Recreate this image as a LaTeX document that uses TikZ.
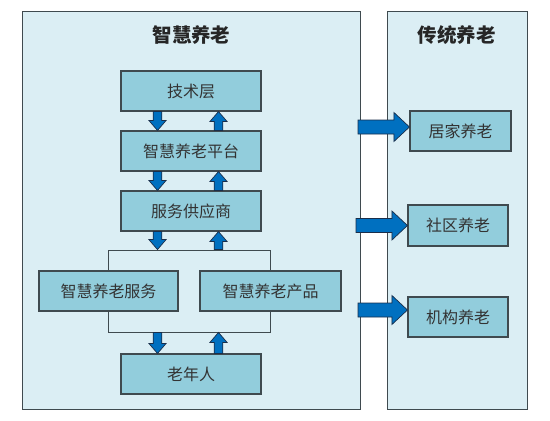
\documentclass[tikz,border=0pt]{standalone}
\usepackage{fontspec}
\newfontfamily\cjk{Noto Sans CJK SC}
\usetikzlibrary{calc}
\definecolor{panelfill}{HTML}{DBEEF4}
\definecolor{boxfill}{HTML}{92CDDC}
\definecolor{boxline}{HTML}{3F4A4F}
\definecolor{arrfill}{HTML}{0070C0}
\definecolor{arrline}{HTML}{1A2E4A}
\definecolor{txt}{HTML}{333333}
\newcommand{\blkarrow}[5]{%
  \coordinate (bah) at ($(#2)!#5!(#1)$);
  \draw[blkarr] ($(#1)!#3!90:(#2)$) -- ($(bah)!#3!90:(#2)$) -- ($(bah)!#4!90:(#2)$) -- (#2)
    -- ($(bah)!#4!-90:(#2)$) -- ($(bah)!#3!-90:(#2)$) -- ($(#1)!#3!-90:(#2)$) -- cycle;}
\begin{document}
\begin{tikzpicture}[x=1pt,y=-1pt,
  panel/.style={draw=boxline, line width=0.9pt, fill=panelfill},
  title/.style={font=\cjk\fontsize{19.5pt}{22pt}\selectfont\bfseries, text=black!85},
  box/.style={draw=boxline, line width=1.1pt, fill=boxfill, minimum height=40pt,
    inner sep=0pt, font=\cjk\fontsize{16pt}{18pt}\selectfont, text=txt},
  frameline/.style={draw=boxline, line width=0.9pt, fill=panelfill, inner sep=0pt},
  blkarr/.style={fill=arrfill, draw=arrline, line width=0.7pt, line join=miter}]
\useasboundingbox (0,0) rectangle (550,421);
\fill[white] (0,0) rectangle (550,421);
% panels
\node[panel, minimum width=337.5pt, minimum height=398pt, anchor=north west] (lp) at (22,11) {};
\node[panel, minimum width=140pt, minimum height=398pt, anchor=north west] (rp) at (387,11) {};
\node[title] (lt) at (191.5,35) {智慧养老};
\node[title] (rt) at (456.5,35) {传统养老};
% connector frame
\node[frameline, minimum width=162.5pt, minimum height=82pt] (frame) at (189.25,291) {};
% boxes
\node[box, minimum width=140pt] (tech) at (191,91) {技术层};
\node[box, minimum width=140pt] (plat) at (191,151) {智慧养老平台};
\node[box, minimum width=140pt] (svc) at (191,211) {服务供应商};
\node[box, minimum width=139pt] (serv) at (108.5,291) {智慧养老服务};
\node[box, minimum width=141pt] (prod) at (270.5,291) {智慧养老产品};
\node[box, minimum width=140pt] (old) at (191,374) {老年人};
\node[box, minimum width=101pt] (home) at (460.5,131) {居家养老};
\node[box, minimum width=100pt, minimum height=41pt] (comm) at (458,225.5) {社区养老};
\node[box, minimum width=100pt] (inst) at (458,317) {机构养老};
% vertical arrows
\coordinate (dx) at (157.5,0);
\coordinate (ux) at (218.5,0);
\coordinate (a1) at (tech.south -| dx); \coordinate (b1) at (plat.north -| dx);
\coordinate (a2) at (plat.north -| ux); \coordinate (b2) at (tech.south -| ux);
\coordinate (a3) at (plat.south -| dx); \coordinate (b3) at (svc.north -| dx);
\coordinate (a4) at (svc.north -| ux);  \coordinate (b4) at (plat.south -| ux);
\coordinate (a5) at (svc.south -| dx);  \coordinate (b5) at (frame.north -| dx);
\coordinate (a6) at (frame.north -| ux); \coordinate (b6) at (svc.south -| ux);
\coordinate (a7) at (frame.south -| dx); \coordinate (b7) at (old.north -| dx);
\coordinate (a8) at (old.north -| ux);  \coordinate (b8) at (frame.south -| ux);
\foreach \i in {1,...,8} {\blkarrow{a\i}{b\i}{4.3pt}{8.6pt}{10pt}}
% horizontal arrows
\coordinate (h1) at (358,127); \coordinate (t1) at ($(home.west)+(0,-4)$);
\coordinate (h2) at (356,225.5); \coordinate (t2) at (comm.west);
\coordinate (h3) at (358,310); \coordinate (t3) at ($(inst.west)+(0,-7)$);
\foreach \i in {1,2,3} {\blkarrow{h\i}{t\i}{7pt}{14.5pt}{15.5pt}}
\end{tikzpicture}
\end{document}
